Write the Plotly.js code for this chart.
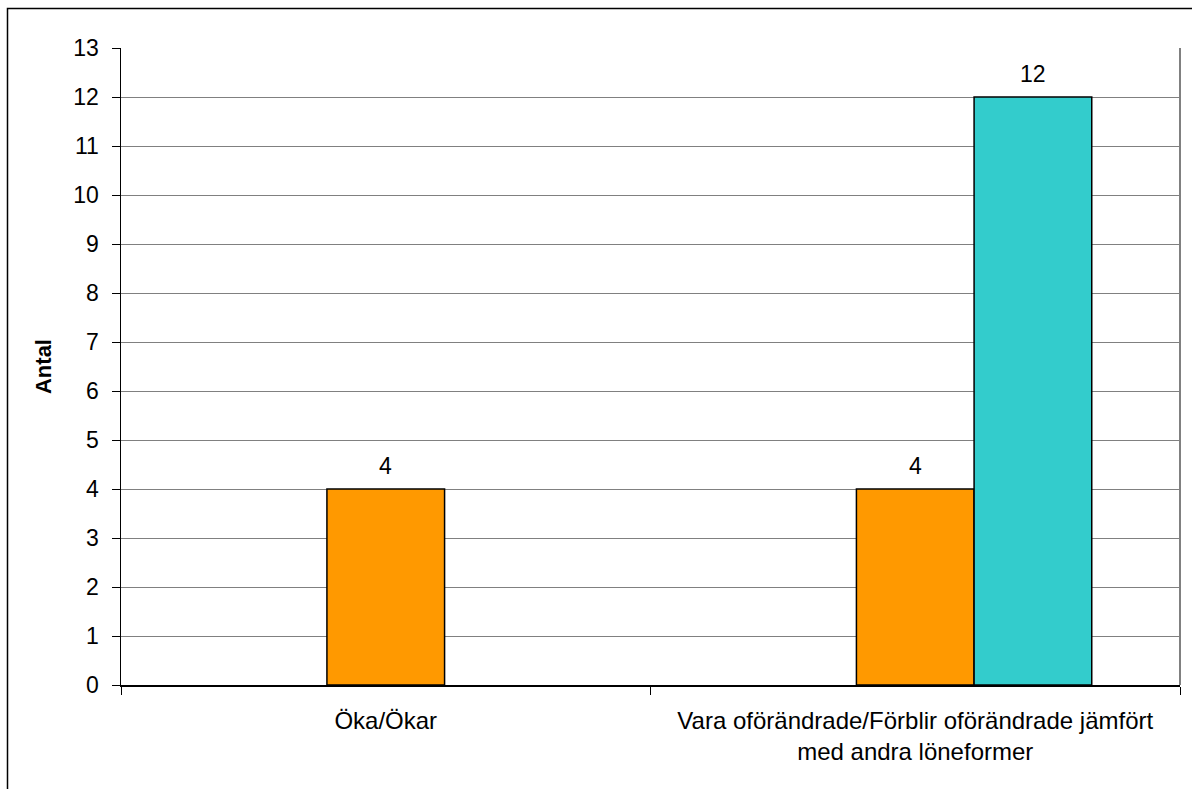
<!DOCTYPE html>
<html>
<head>
<meta charset="utf-8">
<script src="https://cdn.plot.ly/plotly-3.0.1.min.js"></script>
<style>html,body{margin:0;padding:0;background:#fff;}#chart{width:1192px;height:789px;}</style>
</head>
<body>
<div id="chart"></div>
<script>
// Data
var categories = ["Öka/Ökar", "Vara oförändrade/Förblir oförändrade jämfört<br>med andra löneformer"];
var seriesA = [null, null];   // empty series (slot reserved)
var seriesB = [4, 4];         // orange
var seriesC = [null, 12];     // teal
var yTicks = [0,1,2,3,4,5,6,7,8,9,10,11,12,13];

var font = "Liberation Sans, Arial, sans-serif";
var seriesList = [seriesA, seriesB, seriesC];
var colors = ["#9999FF", "#FF9900", "#33CCCC"];
var BARGAP = 1.5/4.5;

var data = seriesList.map(function(vals, k){
  return {
    type: "bar", x: categories, y: vals, name: "S" + k,
    marker: {color: colors[k], line: {color: "#000", width: 1.5}},
    hoverinfo: "skip"
  };
});

// data labels through the axis scales (category index + group slot)
var slot = (1 - BARGAP) / seriesList.length;
var annotations = [];
seriesList.forEach(function(vals, k){
  vals.forEach(function(v, i){
    if (v === null) return;
    annotations.push({
      xref: "x", yref: "y", x: i + (k - (seriesList.length - 1)/2) * slot, y: v,
      text: String(v), showarrow: false, yanchor: "middle", yshift: 23,
      font: {family: font, size: 23, color: "#000"}
    });
  });
});

var W = 1192, H = 789, L = 121, R = 12, T = 48, B = 104;
var pw = W - L - R, ph = H - T - B;
function px(x){return (x - L)/pw;}
function py(y){return (H - B - y)/ph;}

var layout = {
  width: W, height: H,
  margin: {l: L, r: R, t: T, b: B},
  paper_bgcolor: "#fff", plot_bgcolor: "#fff",
  showlegend: false,
  barmode: "group", bargap: BARGAP, bargroupgap: 0,
  font: {family: font, size: 23, color: "#000"},
  xaxis: {
    type: "category", tickson: "boundaries", range: [-0.5, 1.5],
    ticks: "outside", ticklen: 8, tickcolor: "#000", tickwidth: 1,
    showline: true, linecolor: "#000", linewidth: 2,
    showgrid: false, zeroline: false,
    tickfont: {family: font, size: 24, color: "#000"},
    ticklabelstandoff: 13,
    automargin: false
  },
  yaxis: {
    range: [0, 13], tickvals: yTicks, ticktext: yTicks.map(String),
    ticks: "outside", ticklen: 8, tickcolor: "#000", tickwidth: 1,
    showline: true, linecolor: "#000", linewidth: 1.5,
    showgrid: true, gridcolor: "#808080", gridwidth: 1,
    zeroline: false,
    tickfont: {family: font, size: 23, color: "#000"},
    ticklabelstandoff: 8,
    title: {text: "<b>Antal</b>", font: {family: font, size: 22, color: "#000"}, standoff: 15},
    automargin: false
  },
  annotations: annotations,
  shapes: [
    {type: "rect", xref: "paper", yref: "paper", x0: px(7.5), x1: px(1230), y0: py(830), y1: py(8.5),
     line: {color: "#000", width: 1.5}, fillcolor: "rgba(0,0,0,0)", layer: "below"},
    {type: "line", xref: "paper", yref: "paper", x0: 1, x1: 1, y0: 0, y1: 1,
     line: {color: "#808080", width: 2}}
  ]
};

Plotly.newPlot("chart", data, layout, {displayModeBar: false, staticPlot: true});
</script>
</body>
</html>
